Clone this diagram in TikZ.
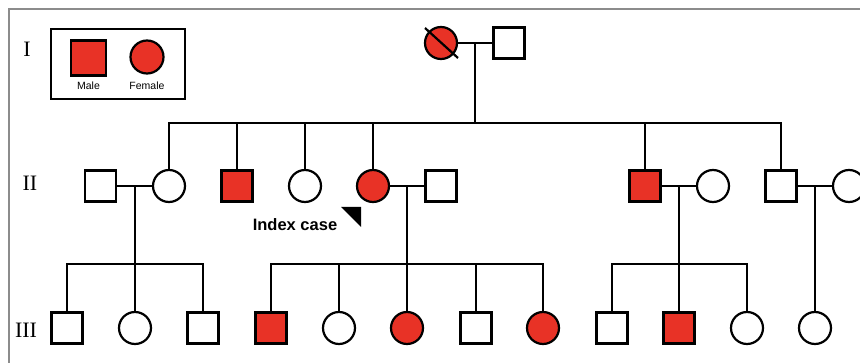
\documentclass[tikz,border=0pt]{standalone}
\usepackage{fontspec}
\setmainfont{Liberation Serif}
\setsansfont{Liberation Sans}
\usetikzlibrary{calc}
\definecolor{affected}{RGB}{232,50,38}
\begin{document}
\begin{tikzpicture}[x=1pt,y=-1pt,line width=2.2pt,
        male/.style={draw,rectangle,minimum size=31pt,inner sep=0pt},
        female/.style={draw,circle,minimum size=32pt,inner sep=0pt},
        ill/.style={fill=affected},
        gen/.style={font=\fontsize{22}{22}\selectfont},
        key/.style={font=\sffamily\fontsize{10.5}{10.5}\selectfont}]
        \useasboundingbox (0,0) rectangle (860,363);
        \draw [black!45,line width=2pt] (9,363) -- (9,9) -- (860,9);

        \draw (51,29) rectangle (185,99);
        \node [male,ill,minimum size=35pt] (keym) at (88.5,58) {};
        \node [female,ill,minimum size=33pt] (keyf) at (147,57) {};
        \node [key] at (88.5,86) {Male};
        \node [key] at (147,86) {Female};

        \node [gen] at (27,49) {I};
        \node [gen] at (30,183) {II};
        \node [gen] at (26,330) {III};

        \coordinate (s2) at (0,123);
        \coordinate (s3) at (0,264);

        \node [female,ill] (g1f) at (441,43) {};
        \node [male] (g1m) at (509,43) {};
        \draw ($(g1f)+(-16,-15)$) -- ($(g1f)+(17,15)$);
        \draw (g1f) -- (g1m);
        \coordinate (c1) at ($(g1f)!0.5!(g1m)$);
        \draw (c1) -- (c1 |- s2);

        \node [male] (g2a) at (100.5,186) {};
        \node [female] (g2b) at (169,186) {};
        \node [male,ill] (g2c) at (237,186) {};
        \node [female] (g2d) at (305,186) {};
        \node [female,ill] (g2e) at (373,186) {};
        \node [male] (g2f) at (441,186) {};
        \node [male,ill] (g2g) at (645,186) {};
        \node [female] (g2h) at (713,186) {};
        \node [male] (g2i) at (781,186) {};
        \node [female] (g2j) at (849,186) {};

        \draw (g2b) -- (g2b |- s2) -- (g2i |- s2) -- (g2i);
        \draw (g2c) -- (g2c |- s2);
        \draw (g2d) -- (g2d |- s2);
        \draw (g2e) -- (g2e |- s2);
        \draw (g2g) -- (g2g |- s2);

        \draw (g2a) -- (g2b);
        \draw (g2e) -- (g2f);
        \draw (g2g) -- (g2h);
        \draw (g2i) -- (g2j);
        \coordinate (c2ab) at ($(g2a)!0.5!(g2b)$);
        \coordinate (c2ef) at ($(g2e)!0.5!(g2f)$);
        \coordinate (c2gh) at ($(g2g)!0.5!(g2h)$);
        \coordinate (c2ij) at ($(g2i)!0.5!(g2j)$);

        \node [font=\sffamily\bfseries\fontsize{16.5}{16.5}\selectfont] (idx) at (295,225) {Index case};
        \fill (341,207) -- (361,207) -- (361,227) -- cycle;

        \node [male] (g3a) at (67,328) {};
        \node [female] (g3b) at (135,328) {};
        \node [male] (g3c) at (203,328) {};
        \node [male,ill] (g3d) at (271,328) {};
        \node [female] (g3e) at (339,328) {};
        \node [female,ill] (g3f) at (407,328) {};
        \node [male] (g3g) at (476,328) {};
        \node [female,ill] (g3h) at (543,328) {};
        \node [male] (g3i) at (612,328) {};
        \node [male,ill] (g3j) at (679,328) {};
        \node [female] (g3k) at (747,328) {};
        \node [female] (g3l) at (815,328) {};

        \draw (c2ab) -- (c2ab |- s3);
        \draw (g3a) -- (g3a |- s3) -- (g3c |- s3) -- (g3c);
        \draw (g3b) -- (g3b |- s3);

        \draw (c2ef) -- (c2ef |- s3);
        \draw (g3d) -- (g3d |- s3) -- (g3h |- s3) -- (g3h);
        \draw (g3e) -- (g3e |- s3);
        \draw (g3f) -- (g3f |- s3);
        \draw (g3g) -- (g3g |- s3);

        \draw (c2gh) -- (c2gh |- s3);
        \draw (g3i) -- (g3i |- s3) -- (g3k |- s3) -- (g3k);
        \draw (g3j) -- (g3j |- s3);

        \draw (c2ij) -- (g3l);
    \end{tikzpicture}
\end{document}
